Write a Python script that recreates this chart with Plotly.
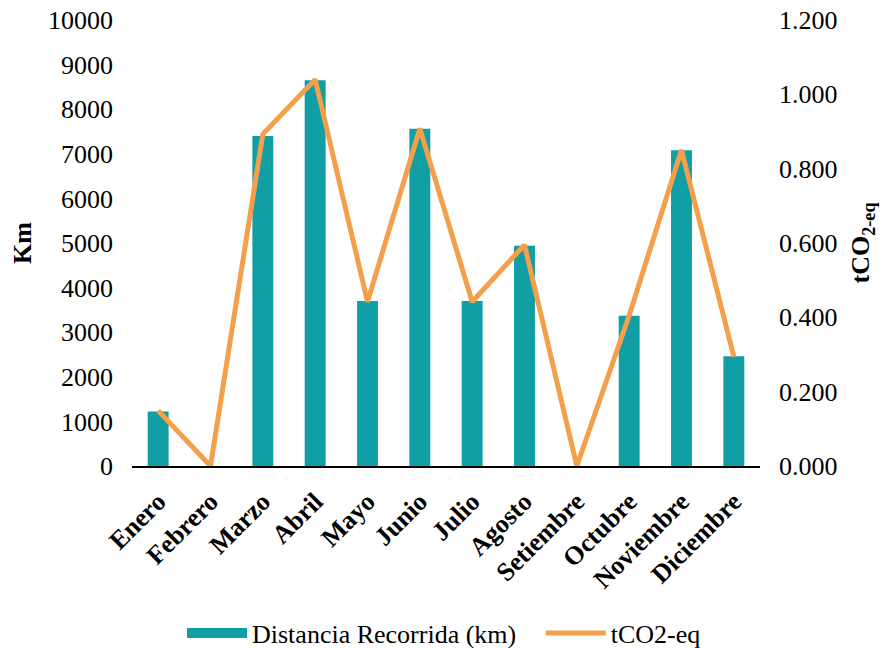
import plotly.graph_objects as go

months = ["Enero", "Febrero", "Marzo", "Abril", "Mayo", "Junio", "Julio",
          "Agosto", "Setiembre", "Octubre", "Noviembre", "Diciembre"]
km = [1220, 0, 7400, 8650, 3700, 7560, 3700, 4940, 0, 3370, 7080, 2460]
tco2 = [0.149, 0.0, 0.893, 1.040, 0.442, 0.908, 0.442, 0.595, 0.0, 0.405, 0.850, 0.294]

FONT = "Liberation Serif, Times New Roman, serif"
TEAL = "#129EA5"
ORANGE = "#F4A04B"

fig = go.Figure()
fig.add_trace(go.Bar(
    x=months, y=km, name="Distancia Recorrida (km)", showlegend=False,
    marker=dict(color=TEAL, line=dict(width=0)), width=0.4, yaxis="y"))
# legend entry with a wide rectangle symbol, like the reference
fig.add_trace(go.Scatter(
    x=[None], y=[None], name="Distancia Recorrida (km)\u00a0\u00a0\u00a0", mode="lines",
    line=dict(color=TEAL, width=14), yaxis="y"))
fig.add_trace(go.Scatter(
    x=months, y=tco2, name="tCO2-eq", mode="lines", yaxis="y2",
    line=dict(color=ORANGE, width=5), cliponaxis=False))

fig.update_layout(
    width=888, height=648,
    margin=dict(l=132, r=128, t=20, b=182, autoexpand=False),
    paper_bgcolor="white", plot_bgcolor="white",
    font=dict(family=FONT, size=26, color="black"),
    xaxis=dict(tickangle=-45, tickfont=dict(family=FONT, size=26, color="black", weight="bold"),
               showline=True, linecolor="black", linewidth=2, ticks="", showgrid=False,
               ticklabelstandoff=8, automargin=False),
    yaxis=dict(range=[0, 10000], dtick=1000, tickformat="d", showgrid=False,
               zeroline=False, ticks="", showline=False, ticklabelstandoff=18,
               automargin=False,
               title=dict(text="<b>Km</b>", font=dict(size=26), standoff=8)),
    yaxis2=dict(range=[0, 1.2], dtick=0.2, tickformat=".3f", overlaying="y", side="right",
                showgrid=False, zeroline=False, ticks="", showline=False, ticklabelstandoff=18,
                automargin=False,
                title=dict(text="<b>tCO<sub>2-eq</sub></b>", font=dict(size=26), standoff=14)),
    legend=dict(orientation="h", x=0.5, xanchor="center", xref="container",
                y=0.023, yanchor="middle", yref="container",
                font=dict(size=26), itemwidth=60, tracegroupgap=0),
    showlegend=True,
)

fig.write_html("out.html", post_script="document.body.style.margin='0';",
               config={"displayModeBar": False})
